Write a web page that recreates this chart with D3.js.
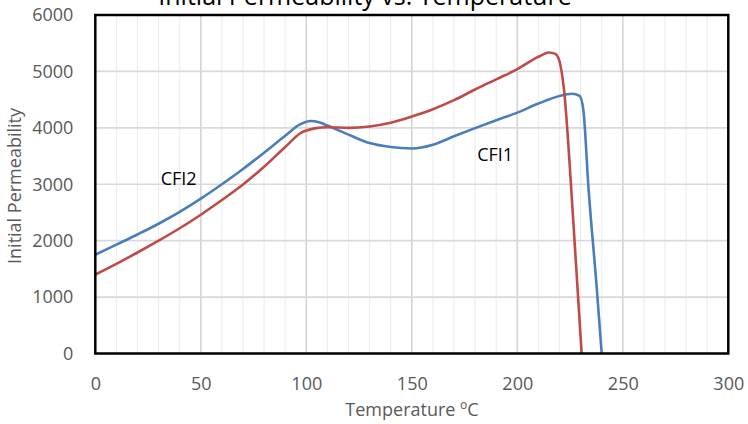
<!DOCTYPE html>
<html><head><meta charset="utf-8">
<script src="https://cdn.jsdelivr.net/npm/d3@7"></script>
<style>body{margin:0;background:#fff}svg{display:block}text{font-family:"Open Sans",sans-serif}</style>
</head><body><svg id="c" width="748" height="424"></svg>
<script>
const titleText = "Initial Permeability vs. Temperature";
const xTitle = "Temperature ";
const yTitle = "Initial Permeability";
const xTicks = [0,50,100,150,200,250,300];
const yTicks = [0,1000,2000,3000,4000,5000,6000];
const blueT = [0,10,20,30,40,50,60,70,80,90,97,102,106,110,120,130,140,150,160,170,180,190,200,210,220,226,229.5,231.3,233.7,237.6,240];
const blueV = [1750,1930,2110,2300,2510,2745,3000,3270,3560,3860,4060,4122,4100,4040,3880,3730,3660,3635,3700,3850,3995,4135,4270,4430,4565,4603,4565,4317,2957,1184,0];
const redT = [0,10,20,30,40,50,60,70,80,90,97,104,110,120,130,140,150,160,170,180,190,200,210,215,218,220,222,226.5,230.5];
const redV = [1400,1590,1790,2000,2220,2460,2720,2995,3310,3660,3900,3990,4010,4000,4025,4090,4200,4330,4490,4680,4860,5040,5260,5335,5310,5180,4720,2367,0];
const labels = [{t:"CFI2", x:31, y:2980},{t:"CFI1", x:181, y:3420}];

const svg = d3.select("#c");
const L=95.3,R=728.3,T=15,B=353.5;
const x = d3.scaleLinear().domain([0,300]).range([L,R]);
const y = d3.scaleLinear().domain([0,6000]).range([B,T]);

const grid = svg.append("g");
d3.range(10,300,10).forEach(v=>{
  const major = v%50===0;
  grid.append("line").attr("x1",x(v)).attr("x2",x(v)).attr("y1",T).attr("y2",B)
    .attr("stroke", major?"#d4d4d4":"#eeeeee").attr("stroke-width", major?1.6:1.2);
});
yTicks.slice(1,-1).forEach(v=>{
  grid.append("line").attr("x1",L).attr("x2",R).attr("y1",y(v)).attr("y2",y(v))
    .attr("stroke","#d9d9d9").attr("stroke-width",1.6);
});

const line = d3.line().curve(d3.curveMonotoneX);
svg.append("path").attr("d", line(blueT.map((t,i)=>[x(t),y(blueV[i])])))
  .attr("fill","none").attr("stroke","#4a7ebb").attr("stroke-width",2.6);
svg.append("path").attr("d", line(redT.map((t,i)=>[x(t),y(redV[i])])))
  .attr("fill","none").attr("stroke","#be4b48").attr("stroke-width",2.6);

svg.append("rect").attr("x",L).attr("y",T).attr("width",R-L).attr("height",B-T)
  .attr("fill","none").attr("stroke","#000").attr("stroke-width",2.5);

const fmt = d3.format("d");
const xa = svg.append("g").attr("transform",`translate(0,${B})`)
  .call(d3.axisBottom(x).tickValues(xTicks).tickFormat(fmt).tickSize(0).tickPadding(24));
xa.select(".domain").remove();
xa.selectAll("text").attr("font-size",18).attr("fill","#595959").attr("font-family","Open Sans");
const ya = svg.append("g").attr("transform",`translate(${L},0)`)
  .call(d3.axisLeft(y).tickValues(yTicks).tickFormat(fmt).tickSize(0).tickPadding(22));
ya.select(".domain").remove();
ya.selectAll("text").attr("font-size",18).attr("fill","#595959").attr("font-family","Open Sans");

svg.append("text").attr("x",365).attr("y",5).attr("text-anchor","middle")
  .attr("font-size",25).attr("fill","#000").text(titleText);

const xt = svg.append("text").attr("x",412).attr("y",416).attr("text-anchor","middle")
  .attr("font-size",18).attr("fill","#595959");
xt.append("tspan").text(xTitle);
xt.append("tspan").attr("font-size",12).attr("dy",-7).text("o");
xt.append("tspan").attr("dy",7).text("C");

svg.append("text").attr("transform","translate(21,186) rotate(-90)").attr("text-anchor","middle")
  .attr("font-size",18).attr("fill","#595959").text(yTitle);

labels.forEach(d=>{
  svg.append("text").attr("x",x(d.x)).attr("y",y(d.y)).attr("font-size",18).attr("fill","#000").text(d.t);
});
</script></body></html>
